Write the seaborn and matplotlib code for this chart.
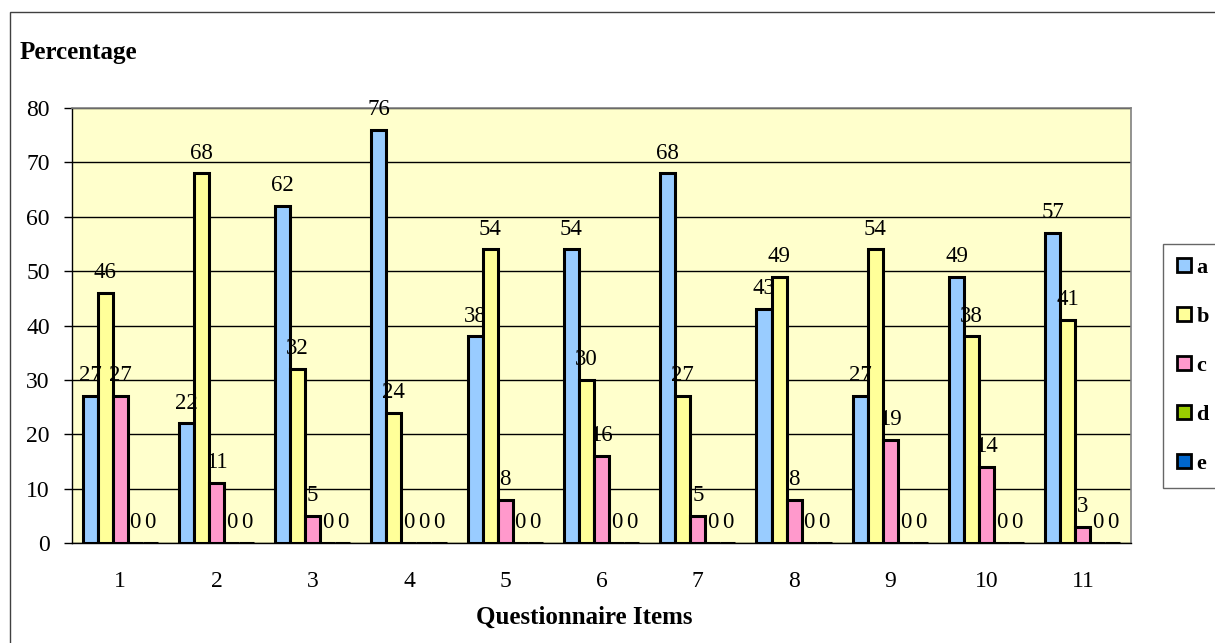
import numpy as np
import pandas as pd
import matplotlib
matplotlib.use("Agg")
import matplotlib.pyplot as plt
import seaborn as sns
from matplotlib.patches import Patch, Rectangle

# ---- data ----
items = ["1", "2", "3", "4", "5", "6", "7", "8", "9", "10", "11"]
options = ["a", "b", "c", "d", "e"]
a_vals = [27, 22, 62, 76, 38, 54, 68, 43, 27, 49, 57]
b_vals = [46, 68, 32, 24, 54, 30, 27, 49, 54, 38, 41]
c_vals = [27, 11, 5, 0, 8, 16, 5, 8, 19, 14, 3]
d_vals = [0, 0, 0, 0, 0, 0, 0, 0, 0, 0, 0]
e_vals = [0, 0, 0, 0, 0, 0, 0, 0, 0, 0, 0]
colors = ["#99CCFF", "#FFFF99", "#FF99CC", "#99CC00", "#0066CC"]

rows = []
for opt, vals in zip(options, [a_vals, b_vals, c_vals, d_vals, e_vals]):
    for it, v in zip(items, vals):
        rows.append({"item": it, "option": opt, "value": v})
df = pd.DataFrame(rows)

sns.set_style("white")
plt.rcParams["font.family"] = ["Liberation Serif", "DejaVu Serif"]
plt.rcParams["text.color"] = "black"
plt.rcParams["xtick.color"] = "black"
plt.rcParams["ytick.color"] = "black"

fig = plt.figure(figsize=(12.15, 6.43), dpi=100)
ax = fig.add_axes([72 / 1215, 1 - 543 / 643, (1131 - 72) / 1215, (543 - 108) / 643])
ax.set_facecolor("#FFFFCC")

sns.barplot(data=df, x="item", y="value", hue="option", order=items,
            hue_order=options, palette=colors, width=0.78, gap=0,
            edgecolor="black", linewidth=2.2, saturation=1,
            legend=False, ax=ax, zorder=3)

for cont in ax.containers:
    ax.bar_label(cont, padding=7, fontsize=16.5)

ax.set_ylim(0, 80)
ax.set_xlim(-0.5, len(items) - 0.5)
ax.set_yticks(np.arange(0, 81, 10))
ax.yaxis.grid(True, color="black", linewidth=1, zorder=0)
ax.set_axisbelow(True)

ax.set_xticks(np.arange(len(items)))
ax.set_xticklabels(items)
ax.set_xticks(np.arange(-0.5, len(items), 1), minor=True)
ax.tick_params(axis="x", which="major", length=0, pad=20, labelsize=17)
ax.tick_params(axis="x", which="minor", length=7, width=1, color="black", direction="out")
ax.tick_params(axis="y", length=6, width=1, color="black", direction="out", pad=10, labelsize=17)
ax.tick_params(bottom=True, left=True)

for side in ["top", "right"]:
    ax.spines[side].set_color("#808080")
    ax.spines[side].set_linewidth(1.2)
for side in ["left", "bottom"]:
    ax.spines[side].set_color("black")
    ax.spines[side].set_linewidth(1)

ax.set_xlabel("")
ax.set_ylabel("")
fig.text(20 / 1215, 1 - 52 / 643, "Percentage", fontsize=18, fontweight="bold",
         ha="left", va="center")
fig.text(584 / 1215, 1 - 617 / 643, "Questionnaire Items", fontsize=18,
         fontweight="bold", ha="center", va="center")

# outer chart border
fig.patches.append(Rectangle((10 / 1215, -0.01), 1.02, 1 - 12 / 643 + 0.01,
                             transform=fig.transFigure, fill=False,
                             edgecolor="#404040", linewidth=1))

handles = [Patch(facecolor=c, edgecolor="black", linewidth=2, label=o)
           for c, o in zip(colors, options)]
leg = fig.legend(handles=handles, loc="center left",
                 bbox_to_anchor=(1163 / 1215, 1 - 366 / 643),
                 frameon=True, fancybox=False, edgecolor="#404040",
                 prop={"weight": "bold", "size": 16}, labelspacing=1.3,
                 handlelength=0.6, handleheight=0.6, handletextpad=0.25,
                 borderpad=0.65, borderaxespad=0)
leg.get_frame().set_linewidth(1)

fig.savefig("out.png", dpi=100)
